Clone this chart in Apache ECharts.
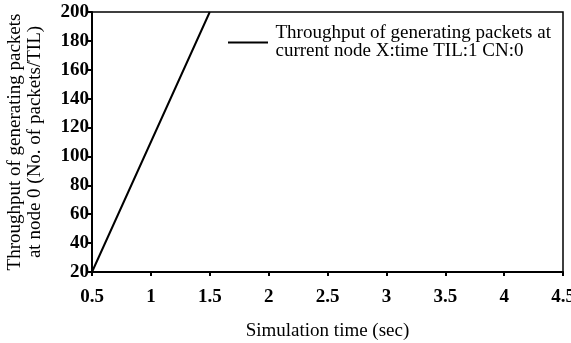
<!DOCTYPE html>
<html>
<head>
<meta charset="utf-8">
<script src="https://cdn.jsdelivr.net/npm/echarts@6/dist/echarts.min.js"></script>
<style>
  html, body { margin: 0; padding: 0; background: #fff; }
  #chart { width: 571px; height: 343px; }
</style>
</head>
<body>
<div id="chart"></div>
<script>
// data
const timeValues = [0.5, 1, 1.5];
const throughputValues = [20, 110, 200];
const seriesName = 'Throughput of generating packets at\ncurrent node X:time TIL:1 CN:0';

const chart = echarts.init(document.getElementById('chart'));
const font = '"Liberation Serif", "Times New Roman", serif';

chart.setOption({
  animation: false,
  grid: {
    left: 92, top: 12, right: 8, bottom: 71,
    outerBoundsMode: 'none',
    show: true, borderColor: '#000', borderWidth: 1.5
  },
  legend: {
    show: true,
    left: 223, top: 19,
    icon: 'path://M0,0 L40,0 L40,2 L0,2 Z',
    itemWidth: 41, itemHeight: 2, itemGap: 0,
    textStyle: { fontFamily: font, fontSize: 19, color: '#000', lineHeight: 18, padding: [0, 0, 0, 2] },
    data: [seriesName]
  },
  xAxis: {
    type: 'value',
    min: 0.5, max: 4.5, interval: 0.5,
    name: 'Simulation time (sec)',
    nameLocation: 'middle', nameGap: 50,
    nameTextStyle: { fontFamily: font, fontSize: 19, color: '#000' },
    axisLine: { lineStyle: { color: '#000', width: 2 } },
    axisTick: { show: true, length: 4, lineStyle: { color: '#000', width: 2 } },
    axisLabel: { fontFamily: font, fontSize: 19, fontWeight: 'bold', color: '#000', margin: 16 },
    splitLine: { show: false }
  },
  yAxis: {
    type: 'value',
    min: 20, max: 200, interval: 20,
    name: 'Throughput of generating packets\nat node 0 (No. of packets/TIL)',
    nameLocation: 'middle', nameGap: 47,
    nameTextStyle: { fontFamily: font, fontSize: 19, color: '#000', lineHeight: 20 },
    axisLine: { lineStyle: { color: '#000', width: 2 } },
    axisTick: { show: true, length: 4, lineStyle: { color: '#000', width: 2 } },
    axisLabel: { fontFamily: font, fontSize: 19, fontWeight: 'bold', color: '#000', margin: 3 },
    splitLine: { show: false }
  },
  series: [{
    name: seriesName,
    type: 'line',
    data: timeValues.map((t, i) => [t, throughputValues[i]]),
    showSymbol: false,
    lineStyle: { color: '#000', width: 2 },
    itemStyle: { color: '#000' }
  }]
});
</script>
</body>
</html>
